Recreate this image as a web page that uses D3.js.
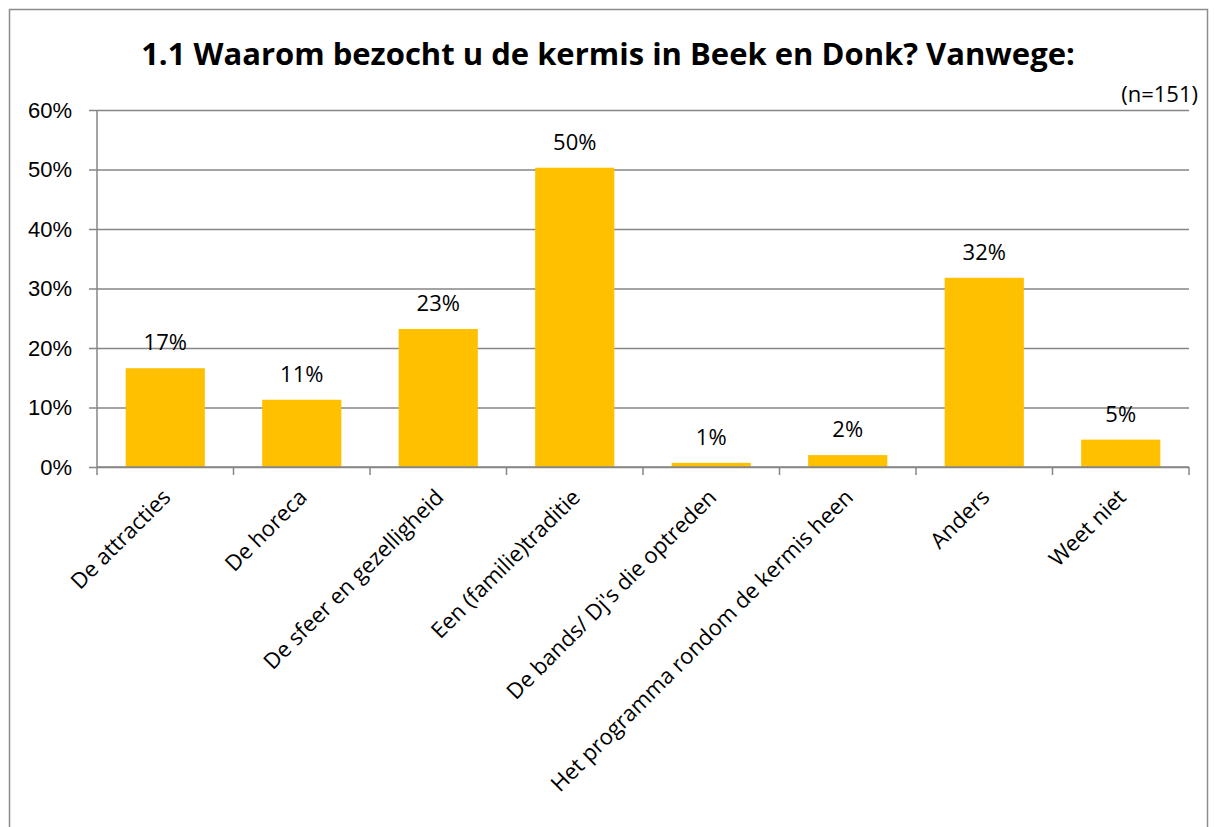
<!DOCTYPE html>
<html>
<head>
<meta charset="utf-8">
<script src="https://cdn.jsdelivr.net/npm/d3@7"></script>
<style>
  body { margin: 0; background: #fff; }
  svg { display: block; font-family: "Open Sans", Lato, sans-serif; }
</style>
</head>
<body>
<div id="graph"></div>
<script>
// Data (n=151)
const categories = [
  "De attracties",
  "De horeca",
  "De sfeer en gezelligheid",
  "Een (familie)traditie",
  "De bands/ Dj's die optreden",
  "Het programma rondom de kermis heen",
  "Anders",
  "Weet niet",
];
const values = [0.166, 0.113, 0.232, 0.503, 0.007, 0.02, 0.318, 0.046];
const valueLabels = ["17%", "11%", "23%", "50%", "1%", "2%", "32%", "5%"];
const yTicks = [0, 0.1, 0.2, 0.3, 0.4, 0.5, 0.6];

const width = 1214;
const height = 827;
const plot = { left: 97, right: 1189, top: 110, bottom: 467 };
const gridColor = "#868686";

const svg = d3
  .select("#graph")
  .append("svg")
  .attr("width", width)
  .attr("height", height);

// Chart frame
svg
  .append("rect")
  .attr("x", 9.5)
  .attr("y", 9.5)
  .attr("width", 1198)
  .attr("height", 900)
  .style("fill", "#fff")
  .style("stroke", "#8c8c8c")
  .style("stroke-width", 1.5);

const x = d3
  .scaleBand()
  .domain(categories)
  .range([plot.left, plot.right])
  .paddingInner(0.42)
  .paddingOuter(0.21);

const y = d3.scaleLinear().domain([0, 0.6]).range([plot.bottom, plot.top]);

// Y axis with gridlines
const yAxis = svg
  .append("g")
  .attr("transform", `translate(${plot.left},0)`)
  .call(
    d3
      .axisLeft(y)
      .tickValues(yTicks)
      .tickFormat(d3.format(".0%"))
      .tickSize(8)
      .tickPadding(17)
  );
yAxis.select(".domain").remove();
yAxis.selectAll(".tick line").attr("stroke", gridColor).attr("stroke-width", 1.5);
yAxis
  .selectAll(".tick")
  .append("line")
  .attr("x1", 0)
  .attr("x2", plot.right - plot.left)
  .attr("stroke", gridColor)
  .attr("stroke-width", 1.5);
yAxis
  .selectAll(".tick text")
  .style("font-size", "22px")
  .style("fill", "#000");

// Vertical axis line
svg
  .append("line")
  .attr("x1", plot.left)
  .attr("x2", plot.left)
  .attr("y1", plot.top)
  .attr("y2", plot.bottom)
  .attr("stroke", gridColor)
  .attr("stroke-width", 1.5);

// Bars
svg
  .append("g")
  .selectAll("rect")
  .data(values)
  .enter()
  .append("rect")
  .attr("x", (d, i) => x(categories[i]))
  .attr("width", x.bandwidth())
  .attr("y", d => y(d))
  .attr("height", d => y(0) - y(d))
  .style("fill", "#FFC000");

// X axis: baseline + boundary ticks
const step = x.step();
const boundaries = d3.range(categories.length + 1).map(i => plot.left + i * step);
svg
  .append("line")
  .attr("x1", plot.left)
  .attr("x2", plot.right)
  .attr("y1", plot.bottom)
  .attr("y2", plot.bottom)
  .attr("stroke", gridColor)
  .attr("stroke-width", 1.5);
svg
  .append("g")
  .selectAll("line")
  .data(boundaries)
  .enter()
  .append("line")
  .attr("x1", d => d)
  .attr("x2", d => d)
  .attr("y1", plot.bottom)
  .attr("y2", plot.bottom + 8)
  .attr("stroke", gridColor)
  .attr("stroke-width", 1.5);

// Category labels, rotated -45
svg
  .append("g")
  .selectAll("text")
  .data(categories)
  .enter()
  .append("text")
  .attr(
    "transform",
    d => `translate(${x(d) + x.bandwidth() / 2 - 5}, ${plot.bottom + 20}) rotate(-45)`
  )
  .attr("text-anchor", "end")
  .attr("dy", "0.75em")
  .style("font-size", "22px")
  .text(d => d);

// Value labels
svg
  .append("g")
  .selectAll("text")
  .data(values)
  .enter()
  .append("text")
  .attr("x", (d, i) => x(categories[i]) + x.bandwidth() / 2)
  .attr("y", d => y(d) - 18)
  .attr("text-anchor", "middle")
  .style("font-size", "22px")
  .text((d, i) => valueLabels[i]);

// Title
svg
  .append("text")
  .attr("x", 608)
  .attr("y", 65)
  .attr("text-anchor", "middle")
  .style("font-size", "31px")
  .style("font-weight", "bold")
  .text("1.1 Waarom bezocht u de kermis in Beek en Donk? Vanwege:");

// Sample size note
svg
  .append("text")
  .attr("x", 1198)
  .attr("y", 102)
  .attr("text-anchor", "end")
  .style("font-size", "22px")
  .text("(n=151)");
</script>
</body>
</html>
